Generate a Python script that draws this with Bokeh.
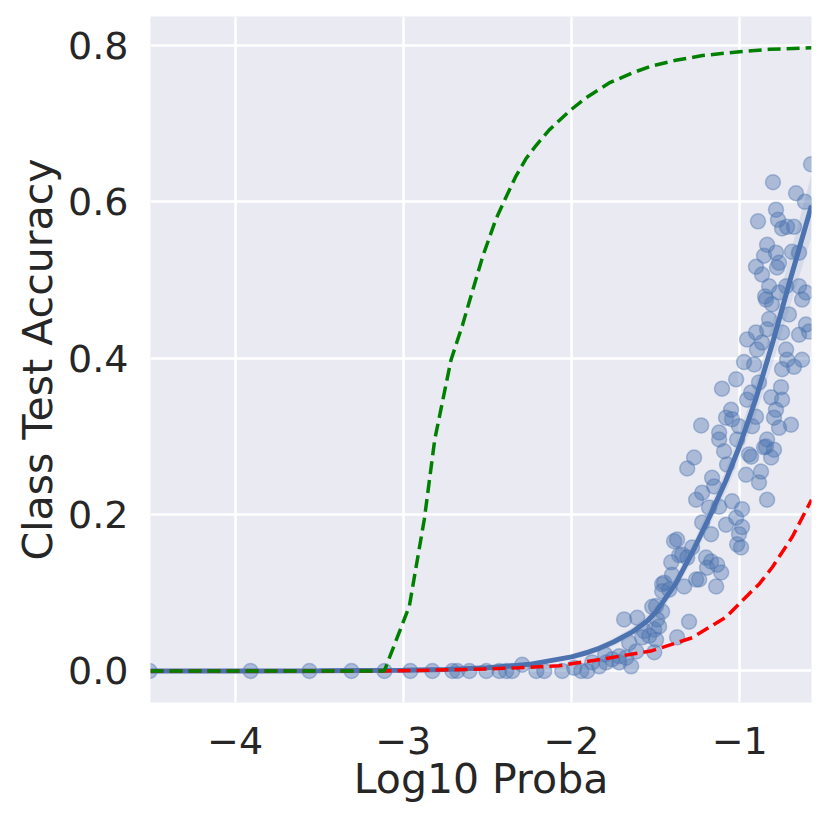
from bokeh.plotting import figure
from bokeh.models import Range1d, FixedTicker, CustomJSTickFormatter, ColumnDataSource
from bokeh.embed import file_html
from bokeh.resources import INLINE

# ---- scatter data (log10 proba, class test accuracy) ----
pts_x = [
    -4.508, -3.908, -3.558, -3.308, -3.112, -2.958, -2.827, -2.708, -2.679, -2.607,
    -2.506, -2.429, -2.388, -2.352, -2.293, -2.209, -2.162, -2.055, -1.984, -1.942,
    -1.906, -1.877, -1.835, -1.794, -1.758, -1.716, -1.675, -1.645, -1.800, -1.716,
    -1.657, -1.615, -1.687, -1.609, -1.568, -1.538, -1.508, -1.497, -1.508, -1.497,
    -1.461, -1.479, -1.372, -1.301, -1.461, -1.419, -1.407, -1.402, -1.330, -1.360,
    -1.312, -1.259, -1.390, -1.520, -1.491, -1.580,
    -1.271, -1.312, -1.093, -1.075, -1.122, -0.932, -0.962, -0.873, -0.885, -0.843,
    -0.813, -0.837, -1.164, -1.152, -1.223, -1.259, -1.182, -1.122, -1.045, -0.986,
    -1.021, -1.081, -1.223, -1.170, -0.986, -1.004, -1.015, -0.992, -1.372, -1.283,
    -1.342, -1.200, -1.170, -1.134, -1.110, -1.194, -1.241, -1.449, -1.461, -1.140,
    -1.229, -1.122, -1.105, -1.021, -1.051, -1.081, -1.045, -1.004, -1.015, -0.944,
    -0.926, -0.903, -0.956, -0.932, -0.885, -0.974, -0.914, -0.956, -0.903, -0.897,
    -0.867, -0.837, -0.825, -0.843, -0.813, -0.754, -0.748, -0.784, -0.796, -0.766,
    -0.837, -0.855, -0.796, -0.695, -0.748, -0.718, -0.677, -0.629, -0.724, -0.748,
    -0.707, -0.647, -0.606, -0.588, -0.629,
    -0.802, -0.576, -0.665, -0.612, -0.891, -0.784, -0.772, -0.748, -0.718, -0.677,
    -0.837, -0.784, -0.855, -0.766, -0.778, -0.689, -0.647, -0.903, -0.867, -0.825,
    -0.849, -0.766, -0.724, -0.647, -0.606, -0.808,
]
pts_y = [
    0.000, 0.000, 0.000, 0.000, 0.000, 0.000, 0.000, 0.000, 0.000, 0.000,
    0.000, 0.000, 0.000, 0.000, 0.008, 0.000, 0.000, 0.000, 0.004, 0.000,
    0.000, 0.011, 0.006, 0.011, 0.015, 0.011, 0.017, 0.006, 0.021, 0.019,
    0.036, 0.025, 0.066, 0.068, 0.051, 0.045, 0.053, 0.040, 0.024, 0.083,
    0.076, 0.057, 0.043, 0.063, 0.111, 0.104, 0.139, 0.123, 0.108, 0.148,
    0.145, 0.117, 0.166, 0.082, 0.066, 0.043,
    0.273, 0.259, 0.281, 0.264, 0.296, 0.274, 0.251, 0.255, 0.241, 0.287,
    0.273, 0.219, 0.247, 0.236, 0.228, 0.219, 0.209, 0.210, 0.217, 0.207,
    0.196, 0.187, 0.190, 0.175, 0.184, 0.175, 0.162, 0.158, 0.168, 0.158,
    0.149, 0.145, 0.140, 0.136, 0.126, 0.132, 0.117, 0.113, 0.102, 0.108,
    0.314, 0.305, 0.361, 0.373, 0.334, 0.324, 0.322, 0.313, 0.296, 0.277,
    0.313, 0.325, 0.347, 0.356, 0.369, 0.395, 0.392, 0.424, 0.433, 0.411,
    0.420, 0.437, 0.450, 0.475, 0.350, 0.363, 0.347, 0.334, 0.324, 0.311,
    0.296, 0.286, 0.283, 0.315, 0.386, 0.398, 0.389, 0.398, 0.411, 0.433,
    0.456, 0.430, 0.443, 0.434, 0.475,
    0.625, 0.648, 0.611, 0.600, 0.575, 0.590, 0.577, 0.566, 0.568, 0.568,
    0.545, 0.535, 0.531, 0.522, 0.516, 0.536, 0.535, 0.517, 0.507, 0.492,
    0.479, 0.484, 0.492, 0.492, 0.484, 0.469,
]

# ---- fitted curve (blue) and its confidence band ----
fit_x = [-4.503, -4.0, -3.5, -3.0, -2.75, -2.5, -2.25, -2.0, -1.9, -1.835, -1.75,
         -1.638, -1.55, -1.499, -1.38, -1.281, -1.182, -1.083, -1.0, -0.904, -0.8,
         -0.7, -0.573]
fit_y = [0.0, 0.0, 0.0002, 0.0009, 0.0019, 0.004, 0.0085, 0.018, 0.024, 0.029, 0.037,
         0.050, 0.064, 0.075, 0.112, 0.152, 0.196, 0.243, 0.288, 0.348, 0.423,
         0.50, 0.595]
band_lo = [0.0, 0.0, 0.0001, 0.0006, 0.0013, 0.003, 0.0068, 0.015, 0.020, 0.025, 0.032,
           0.044, 0.057, 0.068, 0.103, 0.142, 0.184, 0.229, 0.271, 0.327, 0.396,
           0.467, 0.555]
band_hi = [0.0, 0.0, 0.0003, 0.0012, 0.0025, 0.005, 0.0102, 0.021, 0.028, 0.033, 0.042,
           0.056, 0.071, 0.082, 0.121, 0.162, 0.208, 0.257, 0.305, 0.369, 0.450,
           0.533, 0.635]

# ---- green dashed curve ----
green_x = [-4.503, -3.113, -2.964, -2.875, -2.813, -2.716, -2.647, -2.608, -2.528,
           -2.449, -2.40, -2.33, -2.271, -2.211, -2.132, -2.013, -1.914, -1.776,
           -1.637, -1.519, -1.38, -1.222, -1.0, -0.825, -0.573]
green_y = [0.0, 0.0, 0.083, 0.194, 0.296, 0.398, 0.443, 0.472, 0.530,
           0.578, 0.601, 0.633, 0.655, 0.672, 0.692, 0.716, 0.733, 0.752,
           0.765, 0.774, 0.781, 0.787, 0.792, 0.795, 0.797]

# ---- red dashed curve ----
red_x = [-4.503, -3.113, -2.6, -2.31, -2.073, -1.776, -1.52, -1.282, -1.08,
         -0.961, -0.881, -0.805, -0.686, -0.573]
red_y = [0.0, 0.0, 0.002, 0.004, 0.0068, 0.0166, 0.026, 0.0426, 0.069,
         0.095, 0.112, 0.133, 0.172, 0.219]

x_ticks = [-4, -3, -2, -1]
y_ticks = [0.0, 0.2, 0.4, 0.6, 0.8]
x_label = "Log10 Proba"
y_label = "Class Test Accuracy"

BG = "#EAEAF2"
BLUE = "#4C72B0"
TXT = "#262626"
FONT = "DejaVu Sans"

p = figure(
    output_backend="svg", toolbar_location=None,
    frame_width=661, frame_height=686,
    min_border_left=150, min_border_right=7, min_border_top=16, min_border_bottom=111,
    x_range=Range1d(-4.503, -0.573), y_range=Range1d(-0.0403, 0.837),
    background_fill_color=BG, border_fill_color="white",
)
p.outline_line_color = None

for ax in (p.xaxis[0], p.yaxis[0]):
    ax.axis_line_color = None
    ax.major_tick_line_color = None
    ax.minor_tick_line_color = None
    ax.major_label_text_font = FONT
    ax.major_label_text_font_size = "38px"
    ax.major_label_text_color = TXT
    ax.axis_label_text_font = FONT
    ax.axis_label_text_font_size = "41px"
    ax.axis_label_text_font_style = "normal"
    ax.axis_label_text_color = TXT

p.xaxis[0].ticker = FixedTicker(ticks=x_ticks)
p.yaxis[0].ticker = FixedTicker(ticks=y_ticks)
p.xaxis[0].formatter = CustomJSTickFormatter(code="return tick.toFixed(0).replace('-', '\\u2212');")
p.yaxis[0].formatter = CustomJSTickFormatter(code="return tick.toFixed(1);")
p.xaxis[0].axis_label = x_label
p.yaxis[0].axis_label = y_label
p.xaxis[0].major_label_standoff = 18
p.xaxis[0].axis_label_standoff = -2
p.yaxis[0].major_label_standoff = 16
p.yaxis[0].axis_label_standoff = 3

for g in (p.xgrid[0], p.ygrid[0]):
    g.grid_line_color = "white"
    g.grid_line_width = 2.5

src = ColumnDataSource(dict(x=pts_x, y=pts_y))
p.scatter("x", "y", source=src, size=15, fill_color=BLUE, fill_alpha=0.4,
          line_color=BLUE, line_alpha=0.4, line_width=1.5)

p.varea(x=fit_x, y1=band_lo, y2=band_hi, fill_color=BLUE, fill_alpha=0.12)
p.line(fit_x, fit_y, line_color=BLUE, line_width=5)
p.line(red_x, red_y, line_color="#FF0000", line_width=3.5, line_dash="13 6")
p.line(green_x, green_y, line_color="#008000", line_width=3.5, line_dash="13 6")

open("out.html", "w").write(file_html(p, INLINE))
